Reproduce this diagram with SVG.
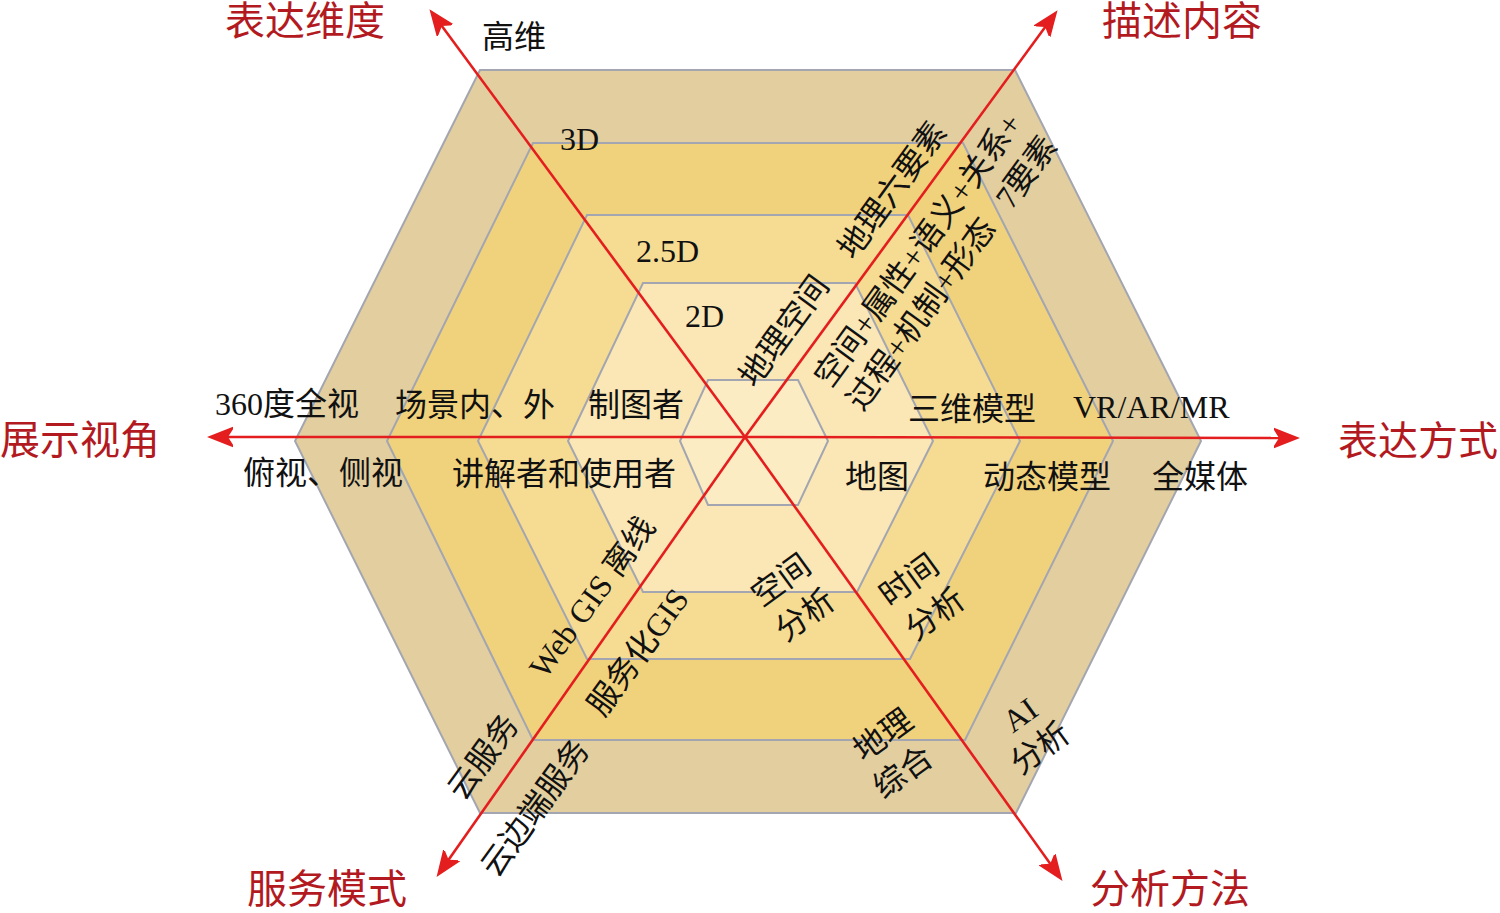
<svg xmlns="http://www.w3.org/2000/svg" width="1500" height="913" viewBox="0 0 1500 913">
<style>
.ring{stroke:#A3A6B0;stroke-width:2;stroke-linejoin:miter}
.axis{stroke:#E41E1E;stroke-width:2.6;fill:none}
.lb{font-family:"Liberation Serif","Noto Sans CJK SC",serif;font-size:32px;fill:#111}
.rl{text-anchor:middle;dominant-baseline:central}
.ttl{font-family:"Liberation Serif","Noto Sans CJK SC",serif;font-size:40px;fill:#B21A1F}
</style>
<defs>
<marker id="ah" markerUnits="userSpaceOnUse" viewBox="-20 -12 32 24" refX="0" refY="0" markerWidth="32" markerHeight="24" orient="auto-start-reverse">
<path d="M6,0 L-22,-11 L-15,0 L-22,11 Z" fill="#E41E1E"/>
</marker>
</defs>
<rect width="1500" height="913" fill="#FFFFFF"/>
<g id="rings">
<polygon id="ring-1" class="ring" fill="#E2CE9F" points="480,70 1015,70 1201,441 1016,813 480,813 295,441"/>
<polygon id="ring-2" class="ring" fill="#F1D27C" points="533,143 963,143 1113,441 965,740 533,740 387,441"/>
<polygon id="ring-3" class="ring" fill="#F6DC92" points="587,215 908,215 1020,441 910,659 587,659 478,441"/>
<polygon id="ring-4" class="ring" fill="#FAE7B5" points="643,283 855,283 933,441 857,592 643,592 568,441"/>
<polygon id="ring-5" class="ring" fill="#FCECC4" points="708,380 798,380 828,441 798,505 708,505 680,441"/>
</g>
<g id="connectors">
<line class="axis" x1="745" y1="437" x2="433" y2="14" marker-end="url(#ah)"/>
<line class="axis" x1="745" y1="437" x2="1054" y2="15" marker-end="url(#ah)"/>
<line class="axis" x1="745" y1="437" x2="213" y2="437" marker-end="url(#ah)"/>
<line class="axis" x1="745" y1="437" x2="1294" y2="438" marker-end="url(#ah)"/>
<line class="axis" x1="745" y1="437" x2="440" y2="872" marker-end="url(#ah)"/>
<line class="axis" x1="745" y1="437" x2="1059" y2="876" marker-end="url(#ah)"/>
</g>
<g id="titles">
<text class="ttl" x="225" y="35">表达维度</text>
<text class="ttl" x="1102" y="35">描述内容</text>
<text class="ttl" x="0" y="454">展示视角</text>
<text class="ttl" x="1338" y="455">表达方式</text>
<text class="ttl" x="247" y="903">服务模式</text>
<text class="ttl" x="1090" y="903">分析方法</text>
</g>
<g id="axis-dimension">
<text class="lb" x="482" y="48">高维</text>
<text class="lb" x="560" y="150">3D</text>
<text class="lb" x="636" y="262">2.5D</text>
<text class="lb" x="685" y="327">2D</text>
</g>
<g id="axis-view">
<text class="lb" x="215" y="415">360度全视</text>
<text class="lb" x="395" y="416">场景内、外</text>
<text class="lb" x="588" y="416">制图者</text>
<text class="lb" x="243" y="484">俯视、侧视</text>
<text class="lb" x="452" y="485">讲解者和使用者</text>
</g>
<g id="axis-expression">
<text class="lb" x="908" y="420">三维模型</text>
<text class="lb" x="1073" y="418">VR/AR/MR</text>
<text class="lb" x="845" y="488">地图</text>
<text class="lb" x="983" y="488">动态模型</text>
<text class="lb" x="1152" y="488">全媒体</text>
</g>
<g id="axis-content">
<text class="lb rl" transform="translate(784,331) rotate(-54)">地理空间</text>
<text class="lb rl" transform="translate(892,190) rotate(-54)">地理六要素</text>
<text class="lb rl" transform="translate(918,250) rotate(-54)">空间+属性+语义+关系+</text>
<text class="lb rl" transform="translate(921,314) rotate(-54)">过程+机制+形态</text>
<text class="lb rl" transform="translate(1026,172) rotate(-54)">7要素</text>
</g>
<g id="axis-service">
<text class="lb rl" transform="translate(592,597) rotate(-54)">Web GIS 离线</text>
<text class="lb rl" transform="translate(638,652) rotate(-54)">服务化GIS</text>
<text class="lb rl" transform="translate(483,757) rotate(-54)">云服务</text>
<text class="lb rl" transform="translate(535,808) rotate(-54)">云边端服务</text>
</g>
<g id="axis-analysis">
<text class="lb rl" transform="translate(781,580) rotate(-36)">空间</text>
<text class="lb rl" transform="translate(805,615) rotate(-36)">分析</text>
<text class="lb rl" transform="translate(909,580) rotate(-36)">时间</text>
<text class="lb rl" transform="translate(935,614) rotate(-36)">分析</text>
<text class="lb rl" transform="translate(883,735) rotate(-36)">地理</text>
<text class="lb rl" transform="translate(903,772) rotate(-36)">综合</text>
<text class="lb rl" transform="translate(1020,715) rotate(-36)">AI</text>
<text class="lb rl" transform="translate(1040,748) rotate(-36)">分析</text>
</g>
</svg>
